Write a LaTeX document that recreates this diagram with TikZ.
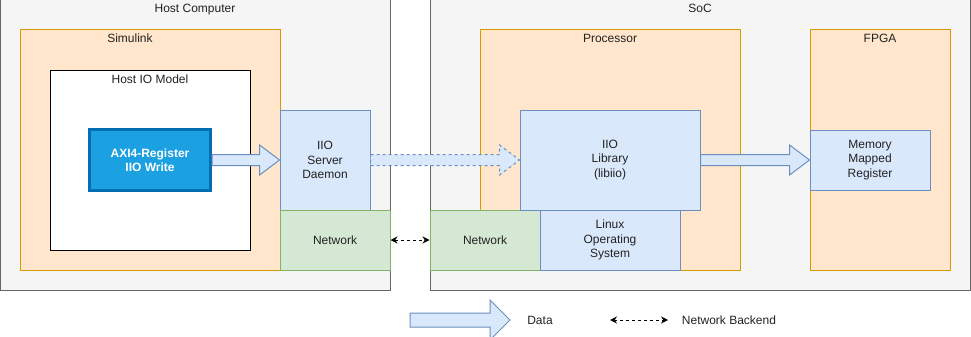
\documentclass[tikz,border=0pt]{standalone}
\usepackage{fontspec}
\setmainfont{Liberation Sans}
\usepackage{tikz}
\usetikzlibrary{arrows.meta,calc,positioning}
\usepackage{xcolor}
\definecolor{ink}{HTML}{222222}
\definecolor{hostfill}{HTML}{F5F5F5}
\definecolor{hostline}{HTML}{666666}
\definecolor{orangefill}{HTML}{FFE6CC}
\definecolor{orangeline}{HTML}{D79B00}
\definecolor{bluefill}{HTML}{DAE8FC}
\definecolor{blueline}{HTML}{6C8EBF}
\definecolor{greenfill}{HTML}{D5E8D4}
\definecolor{greenline}{HTML}{82B366}
\definecolor{axifill}{HTML}{1BA1E2}
\definecolor{axiline}{HTML}{006EAF}
\newcommand{\dataarrow}[5][]{%
\filldraw[dataflow,#1] ($(#2)+(0,-#4)$) -- ($(#3)+(-20,-#4)$) -- ($(#3)+(-20,-#5)$) -- (#3)
-- ($(#3)+(-20,#5)$) -- ($(#3)+(-20,#4)$) -- ($(#2)+(0,#4)$) -- cycle;}

\begin{document}
\begin{tikzpicture}[x=1pt,y=-1pt,
every node/.style={font=\fontsize{12}{14.5}\selectfont,text=ink},
box/.style={rectangle,draw,line width=1pt,inner sep=0pt,align=center},
hostbox/.style={box,fill=hostfill,draw=hostline},
appbox/.style={box,fill=orangefill,draw=orangeline},
partbox/.style={box,fill=bluefill,draw=blueline},
netbox/.style={box,fill=greenfill,draw=greenline},
title/.style={inner sep=0pt,text height=8.5pt,text depth=2.5pt},
dataflow/.style={fill=bluefill,draw=blueline,line width=1pt,line join=miter},
netlink/.style={line width=1pt,dash pattern=on 3pt off 3pt,{Stealth[length=7pt,width=7pt]}-{Stealth[length=7pt,width=7pt]}}]
\useasboundingbox (0,0) rectangle (971,337);
\node[hostbox,minimum width=390pt,minimum height=290pt] (host) at (195,145) {};
\node[hostbox,minimum width=540pt,minimum height=290pt] (soc) at (700,145) {};
\node[title] (hosttitle) at (195,10) {Host Computer};
\node[title] (soctitle) at (700,10) {SoC};
\node[appbox,minimum width=260pt,minimum height=240pt] (simulink) at (150,150) {};
\node[title] (simulinktitle) at (130,40) {Simulink};
\node[box,fill=white,draw=black,minimum width=200pt,minimum height=180pt] (hostio) at (150,160) {};
\node[title] (hostiotitle) at (150,80) {Host IO Model};
\node[box,fill=axifill,draw=axiline,line width=3pt,minimum width=121pt,minimum height=61pt,
font=\fontsize{12}{14.5}\selectfont\bfseries,text=white] (axi) at (150,160) {AXI4-Register\\IIO Write};
\node[partbox,minimum width=90pt,minimum height=100pt] (daemon) at (325,160) {IIO\\Server\\Daemon};
\node[netbox,minimum width=110pt,minimum height=60pt] (netL) at (335,240) {Network};
\node[appbox,minimum width=260pt,minimum height=240pt] (proc) at (610,150) {};
\node[title] (proctitle) at (610,40) {Processor};
\node[appbox,minimum width=140pt,minimum height=240pt] (fpga) at (880,150) {};
\node[title] (fpgatitle) at (880,40) {FPGA};
\node[netbox,minimum width=110pt,minimum height=60pt] (netR) at (485,240) {Network};
\node[partbox,minimum width=140pt,minimum height=60pt] (linux) at (610,240) {Linux\\Operating\\System};
\node[partbox,minimum width=180pt,minimum height=100pt] (libiio) at (610,160) {IIO\\Library\\(libiio)};
\node[partbox,minimum width=120pt,minimum height=60pt] (mmr) at (870,160) {Memory\\Mapped\\Register};
\dataarrow{axi.east}{daemon.west}{5.5}{15}
\dataarrow[dashed]{daemon.east}{libiio.west}{5.5}{15}
\dataarrow{libiio.east}{mmr.west}{5.5}{15}
\draw[netlink] (netL.east) -- (netR.west);
\coordinate (datafrom) at (410,320);
\coordinate (datato) at (510,320);
\dataarrow{datafrom}{datato}{7}{20}
\node (datalabel) at (540,320) {Data};
\coordinate (netfrom) at (610,320);
\coordinate (netto) at (668,320);
\draw[netlink] (netfrom) -- (netto);
\node (netlabel) at (729,320) {Network Backend};
\end{tikzpicture}
\end{document}
